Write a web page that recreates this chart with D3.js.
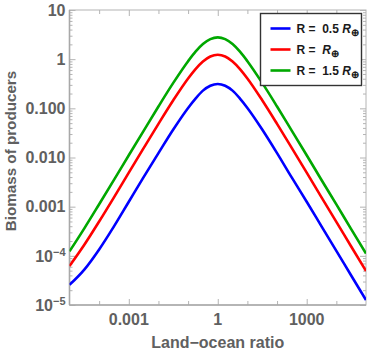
<!DOCTYPE html>
<html>
<head>
<meta charset="utf-8">
<script src="https://cdn.jsdelivr.net/npm/d3@7"></script>
<style>
  body { margin: 0; background: #fff; }
  text { font-family: "Liberation Sans", Arial, sans-serif; }
</style>
</head>
<body>
<div id="chart"></div>
<script>
// land-ocean ratio sample points (half decades, quarter decades near the peak)
var ratio = [1e-5, 3.16e-5, 1e-4, 3.16e-4, 1e-3, 3.16e-3, 0.01, 0.0316, 0.1, 0.178, 0.316, 0.562, 1,
             1.78, 3.16, 5.62, 10, 31.6, 100, 316, 1000, 3162, 1e4, 31623, 1e5];
// biomass of producers
var biomassHalf = [2.57e-5, 5.25e-5, 1.35e-4, 3.98e-4, 1.26e-3, 3.98e-3, 0.0123, 0.0372, 0.102, 0.158, 0.229, 0.288, 0.313,
                   0.288, 0.229, 0.158, 0.102, 0.0372, 0.0123, 3.89e-3, 1.26e-3, 3.98e-4, 1.26e-4, 3.98e-5, 1.26e-5];
var biomassOne = [6.2e-5, 1.68e-4, 5.0e-4, 1.55e-3, 4.92e-3, 0.0155, 0.0484, 0.146, 0.405, 0.630, 0.90, 1.135, 1.23,
                  1.135, 0.90, 0.630, 0.405, 0.146, 0.0484, 0.0155, 4.92e-3, 1.55e-3, 4.92e-4, 1.55e-4, 4.92e-5];
var biomassOneHalf = [1.23e-4, 3.62e-4, 1.12e-3, 3.5e-3, 0.0111, 0.0349, 0.109, 0.329, 0.91, 1.42, 2.03, 2.55, 2.77,
                      2.55, 2.03, 1.42, 0.91, 0.329, 0.109, 0.0349, 0.0111, 3.49e-3, 1.11e-3, 3.49e-4, 1.11e-4];

var seriesLabels = ["R =  0.5 ", "R =  ", "R =  1.5 "];
var yTicks = [1e-5, 1e-4, 1e-3, 1e-2, 1e-1, 1, 10];
var yTickLabels = ["10^-5", "10^-4", "0.001", "0.010", "0.100", "1", "10"];
var xTicks = [1e-3, 1, 1e3];
var xTickLabels = ["0.001", "1", "1000"];

var width = 371, height = 353;
var margin = { top: 10, right: 5, bottom: 48, left: 69.5 };
var w = width - margin.left - margin.right;
var h = height - margin.top - margin.bottom;

var svg = d3.select('#chart').append('svg')
  .attr('width', width)
  .attr('height', height);

var g = svg.append('g')
  .attr('transform', 'translate(' + margin.left + ',' + margin.top + ')');

var x = d3.scaleLog().domain([1e-5, 1e5]).range([0, w]);
var y = d3.scaleLog().domain([1e-5, 10]).range([h, 0]);

var frameColor = '#b4b4b4';
var labelColor = '#606060';

// minor ticks
var yMinor = [];
for (var e = -5; e < 1; e++) {
  for (var m = 2; m < 10; m++) yMinor.push(m * Math.pow(10, e));
}
var xMid = [1e-4, 1e-2, 1e-1, 10, 100, 1e4];

function styleAxis(sel) {
  sel.select('.domain').remove();
  sel.selectAll('line').attr('stroke', frameColor).attr('stroke-width', 1);
  sel.selectAll('text').remove();
}

// left / right ticks (inward)
g.append('g').call(d3.axisLeft(y).tickValues(yTicks).tickSize(-6)).call(styleAxis);
g.append('g').call(d3.axisLeft(y).tickValues(yMinor).tickSize(-3)).call(styleAxis);
g.append('g').attr('transform', 'translate(' + w + ',0)')
  .call(d3.axisRight(y).tickValues(yTicks).tickSize(-6)).call(styleAxis);
g.append('g').attr('transform', 'translate(' + w + ',0)')
  .call(d3.axisRight(y).tickValues(yMinor).tickSize(-3)).call(styleAxis);
// bottom / top ticks (inward)
g.append('g').attr('transform', 'translate(0,' + h + ')')
  .call(d3.axisBottom(x).tickValues(xTicks).tickSize(-6)).call(styleAxis);
g.append('g').attr('transform', 'translate(0,' + h + ')')
  .call(d3.axisBottom(x).tickValues(xMid).tickSize(-4)).call(styleAxis);
g.append('g').call(d3.axisTop(x).tickValues(xTicks).tickSize(-6)).call(styleAxis);
g.append('g').call(d3.axisTop(x).tickValues(xMid).tickSize(-4)).call(styleAxis);

// frame
g.append('rect')
  .attr('width', w)
  .attr('height', h)
  .attr('fill', 'none')
  .attr('stroke', frameColor)
  .attr('stroke-width', 1);
g.append('line').attr('x1', 0).attr('x2', 0).attr('y1', 0).attr('y2', h)
  .attr('stroke', '#a8a8a8').attr('stroke-width', 1.6);
g.append('line').attr('x1', 0).attr('x2', w).attr('y1', h).attr('y2', h)
  .attr('stroke', '#a8a8a8').attr('stroke-width', 1.6);

// y tick labels
yTicks.forEach(function(v, i) {
  var t = g.append('text')
    .attr('x', -4)
    .attr('y', y(v))
    .attr('dy', '0.36em')
    .attr('text-anchor', 'end')
    .attr('fill', labelColor)
    .attr('font-weight', 'bold')
    .attr('font-size', 16);
  var lab = yTickLabels[i];
  if (lab.indexOf('^') > -1) {
    var parts = lab.split('^');
    t.append('tspan').text(parts[0]);
    t.append('tspan').attr('font-size', 11).attr('dy', -6).text(parts[1].replace('-', '\u2212'));
  } else {
    t.text(lab);
  }
});

// x tick labels
g.selectAll('.xlab')
  .data(xTicks)
  .enter()
  .append('text')
  .attr('class', 'xlab')
  .attr('x', function(d) { return x(d); })
  .attr('y', h + 19.5)
  .attr('text-anchor', 'middle')
  .attr('fill', labelColor)
  .attr('font-weight', 'bold')
  .attr('font-size', 16)
  .text(function(d, i) { return xTickLabels[i]; });

// axis titles
svg.append('text')
  .attr('x', margin.left + w / 2)
  .attr('y', 348)
  .attr('text-anchor', 'middle')
  .attr('fill', labelColor)
  .attr('font-weight', 'bold')
  .attr('font-size', 16)
  .text('Land\u2212ocean ratio');

svg.append('text')
  .attr('transform', 'translate(16,151) rotate(-90)')
  .attr('text-anchor', 'middle')
  .attr('fill', labelColor)
  .attr('font-weight', 'bold')
  .attr('font-size', 15.2)
  .text('Biomass of producers');

// curves
svg.append('clipPath').attr('id', 'clip')
  .append('rect').attr('width', w).attr('height', h);

var series = [
  { values: biomassHalf, color: '#0000ff' },
  { values: biomassOne, color: '#ff0000' },
  { values: biomassOneHalf, color: '#00a800' }
];

var line = d3.line()
  .x(function(d) { return x(d[0]); })
  .y(function(d) { return y(d[1]); })
  .curve(d3.curveMonotoneX);

g.append('g').attr('clip-path', 'url(#clip)')
  .selectAll('path')
  .data(series)
  .enter()
  .append('path')
  .attr('d', function(s) { return line(ratio.map(function(r, i) { return [r, s.values[i]]; })); })
  .attr('fill', 'none')
  .attr('stroke', function(s) { return s.color; })
  .attr('stroke-width', 2.6);

// legend
var legend = svg.append('g').attr('transform', 'translate(260.5,13.5)');
legend.append('rect')
  .attr('width', 101)
  .attr('height', 72)
  .attr('fill', '#fff')
  .attr('stroke', '#333')
  .attr('stroke-width', 1.4);

var item = legend.selectAll('.item')
  .data(series)
  .enter()
  .append('g')
  .attr('class', 'item')
  .attr('transform', function(d, i) { return 'translate(0,' + (15 + i * 21) + ')'; });

item.append('line')
  .attr('x1', 10).attr('x2', 30)
  .attr('stroke', function(d) { return d.color; })
  .attr('stroke-width', 2.6);

var lt = item.append('text')
  .attr('x', 36)
  .attr('y', 4.5)
  .attr('fill', '#1a1a1a')
  .attr('font-weight', 'bold')
  .attr('font-size', 12)
  .style('white-space', 'pre');
lt.append('tspan').text(function(d, i) { return seriesLabels[i]; });
lt.append('tspan').attr('font-style', 'italic').text('R');
lt.append('tspan').attr('font-size', 10).attr('dy', 2.5).text('\u2295');
</script>
</body>
</html>
